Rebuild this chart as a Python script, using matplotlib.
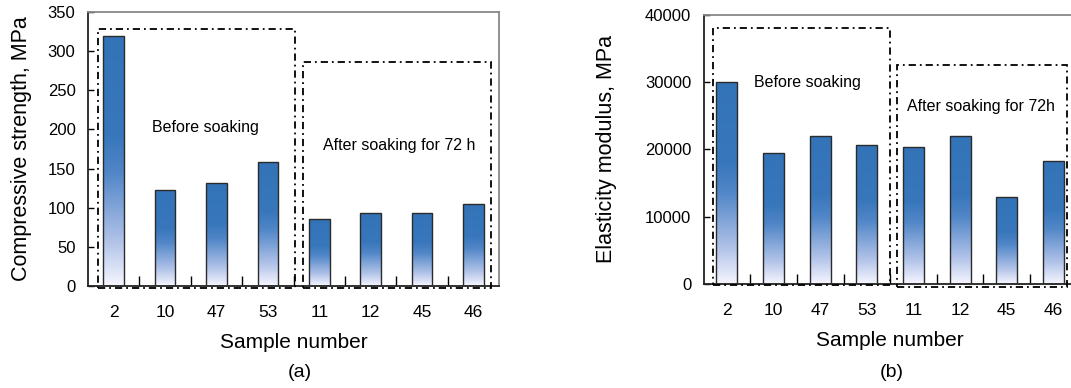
import matplotlib
matplotlib.use('Agg')
import matplotlib.pyplot as plt
import numpy as np
from matplotlib.colors import LinearSegmentedColormap
from matplotlib.patches import Rectangle

plt.rcParams['font.family'] = ['Liberation Sans', 'DejaVu Sans']

# Data
samples = ['2', '10', '47', '53', '11', '12', '45', '46']
strength = [319, 122, 131, 158, 85, 93, 93, 105]
modulus = [30000, 19500, 22000, 20600, 20300, 22000, 12900, 18300]

# bar gradient: pale at the bottom, solid blue at the top
grad = LinearSegmentedColormap.from_list(
    'bargrad', [(0.0, '#f6f6ff'), (0.18, '#b0c2e8'), (0.45, '#5287c8'),
                (0.6, '#3877bb'), (1.0, '#3373b8')])


def gradient_bars(ax, values, width):
    x = np.arange(len(values))
    bars = ax.bar(x, values, width=width, facecolor='none',
                  edgecolor='#2b2b2b', linewidth=1.0, zorder=3)
    g = np.linspace(0, 1, 256).reshape(-1, 1)
    for b in bars:
        im = ax.imshow(g, cmap=grad, origin='lower', aspect='auto',
                       extent=[b.get_x(), b.get_x() + b.get_width(), 0, b.get_height()],
                       zorder=2)
        im.set_clip_path(b)
    return bars


def style_axes(ax, ymax, ystep):
    ax.set_xlim(-0.5, 7.5)
    ax.set_ylim(0, ymax)
    ax.set_yticks(np.arange(0, ymax + 1, ystep))
    ax.set_xticks(np.arange(len(samples)))
    ax.set_xticklabels(samples)
    ax.set_xticks(np.arange(0.5, 7, 1), minor=True)
    ax.tick_params(axis='x', which='major', length=0, pad=14, labelsize=12.5)
    ax.tick_params(axis='x', which='minor', direction='in', length=7, width=1)
    ax.tick_params(axis='y', direction='in', length=4, width=1, labelsize=12, pad=9)
    for s in ['top', 'right']:
        ax.spines[s].set_color('#888888')
        ax.spines[s].set_linewidth(1.3)
    for s in ['left', 'bottom']:
        ax.spines[s].set_color('#222222')
        ax.spines[s].set_linewidth(1.3)
    ax.set_xlabel('Sample number', fontsize=15, labelpad=9)


def box(ax, x0, y0, x1, y1):
    r = Rectangle((x0, y0), x1 - x0, y1 - y0, fill=False, edgecolor='black',
                  linewidth=1.3, linestyle=(0, (4, 2.2, 1, 2.2)),
                  clip_on=False, zorder=4)
    ax.add_patch(r)


fig = plt.figure(figsize=(10.71, 3.88), dpi=100)

# (a) compressive strength
ax1 = fig.add_axes([0.0822, 0.2629, 0.3838, 0.7062])
gradient_bars(ax1, strength, 0.4)
style_axes(ax1, 350, 50)
ax1.set_ylabel('Compressive strength, MPa', fontsize=15.5, labelpad=11)
box(ax1, -0.31, -2.5, 3.53, 328)
box(ax1, 3.68, -2.5, 7.34, 286)
ax1.text(1.78, 202, 'Before soaking', ha='center', va='center', fontsize=11.5)
ax1.text(5.55, 180, 'After soaking for 72 h', ha='center', va='center', fontsize=11.5)
fig.text(0.280, 0.040, '(a)', ha='center', va='center', fontsize=14)

# (b) elasticity modulus
ax2 = fig.add_axes([0.657, 0.2688, 0.3483, 0.6925])
gradient_bars(ax2, modulus, 0.45)
style_axes(ax2, 40000, 10000)
ax2.set_ylabel('Elasticity modulus, MPa', fontsize=15.5, labelpad=20)
box(ax2, -0.30, -200, 3.49, 38000)
box(ax2, 3.65, -500, 7.30, 32500)
ax2.text(1.72, 29900, 'Before soaking', ha='center', va='center', fontsize=11.5)
ax2.text(5.45, 26400, 'After soaking for 72h', ha='center', va='center', fontsize=11.5)
fig.text(0.833, 0.040, '(b)', ha='center', va='center', fontsize=14)

fig.savefig('out.png', dpi=100)
